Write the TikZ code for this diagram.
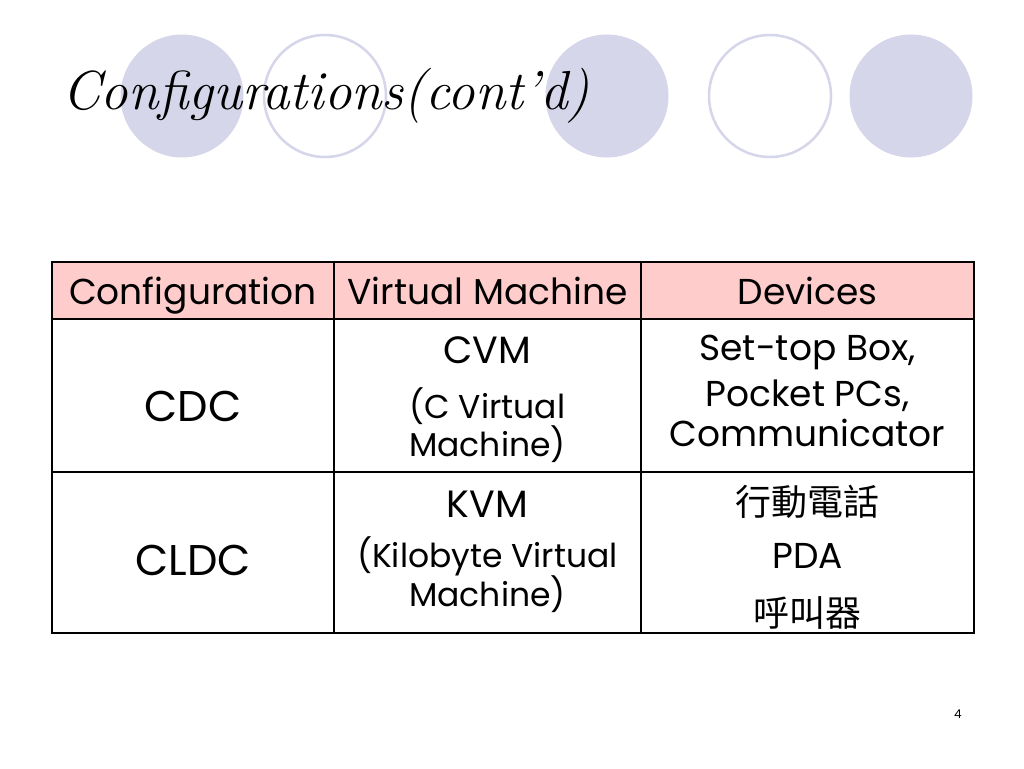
\documentclass[tikz,border=0pt]{standalone}
\usepackage{fontspec}
\newfontfamily\bodyfont{Poppins}
\newfontfamily\cjkfont{Noto Sans CJK TC}
\usetikzlibrary{
  positioning,
  calc}
\definecolor{dotcolor}{RGB}{214,214,235}
\definecolor{headcolor}{RGB}{255,204,204}
\tikzset{
  %% dot : a filled circle behind the title
  dot/.style={
    circle,
    fill=dotcolor,
    minimum size=123pt,
    inner sep=0pt
  },
  %% ring : an open circle behind the title
  ring/.style={
    circle,
    draw=dotcolor,
    line width=2.5pt,
    minimum size=122pt,
    inner sep=0pt
  },
  %% title : the slide title
  title/.style={
    font=\itshape\fontsize{55}{64}\selectfont,
    anchor=base west,
    inner sep=0pt
  },
  %% head : text in the header row
  head/.style={
    font=\bodyfont\fontsize{36}{44}\selectfont,
    anchor=base,
    inner sep=0pt
  },
  %% config : configuration name
  config/.style={
    font=\bodyfont\fontsize{43}{50}\selectfont,
    anchor=base,
    inner sep=0pt
  },
  %% vmname : virtual machine name
  vmname/.style={
    font=\bodyfont\fontsize{38}{46}\selectfont,
    anchor=base,
    inner sep=0pt
  },
  %% vmnote : long name of the virtual machine
  vmnote/.style={
    font=\bodyfont\fontsize{33}{40}\selectfont,
    anchor=base,
    inner sep=0pt
  },
  %% device : a line in the devices column
  device/.style={
    font=\bodyfont\fontsize{36}{44}\selectfont,
    anchor=base,
    inner sep=0pt
  },
  %% cjk : chinese device names
  cjk/.style={
    font=\cjkfont\fontsize{36}{44}\selectfont,
    inner sep=0pt
  },
  %% frame : outer border of the table
  frame/.style={black, line width=2.8pt},
  %% rule : inner lines of the table
  rule/.style={black, line width=1.3pt}
}

\begin{document}
\begin{tikzpicture}
  [x=1pt,
  y=-1pt]

  \useasboundingbox [fill=white] (0, 0) rectangle (1024, 768);

  %% Circles behind the title
  \node (dot1) [dot] at (182, 96) {};
  \node (ring1) [ring] at (325, 96) {};
  \node (dot2) [dot] at (607, 96) {};
  \node (ring2) [ring] at (770, 96) {};
  \node (dot3) [dot] at (911, 96) {};

  %% Title
  \node (title) [title] at (62, 109) {Configurations(cont’d)};

  %% Table
  \coordinate (tl) at (52, 262);
  \coordinate (br) at (974, 633);
  \fill [headcolor] (tl) rectangle (974, 319);
  \draw [rule] (52, 319) -- (974, 319);
  \draw [rule] (52, 472) -- (974, 472);
  \draw [rule] (334, 262) -- (334, 633);
  \draw [rule] (641, 262) -- (641, 633);
  \draw [frame] (tl) rectangle (br);

  %% Header row
  \node (cfghead) [head] at (193, 304) {Configuration};
  \node (vmhead) [head] at (487.5, 304) {Virtual Machine};
  \node (devhead) [head] at (807.5, 304) {Devices};

  %% CDC row
  \node (cdc) [config] at (193, 421) {CDC};
  \node (cvm) [vmname] at (487.5, 363) {CVM};
  \node (cvmnote1) [vmnote] at (487.5, 418) {(C Virtual};
  \node (cvmnote2) [vmnote] at (487.5, 456) {Machine)};
  \node (cdcdev1) [device] at (807.5, 360) {Set-top Box,};
  \node (cdcdev2) [device] at (807.5, 406) {Pocket PCs,};
  \node (cdcdev3) [device] at (807.5, 446) {Communicator};

  %% CLDC row
  \node (cldc) [config] at (193, 575) {CLDC};
  \node (kvm) [vmname] at (487.5, 517) {KVM};
  \node (kvmnote1) [vmnote] at (487.5, 567) {(Kilobyte Virtual};
  \node (kvmnote2) [vmnote] at (487.5, 606) {Machine)};
  \node (cldcdev1) [cjk] at (807.5, 502) {行動電話};
  \node (cldcdev2) [device] at (807.5, 568) {PDA};
  \node (cldcdev3) [cjk] at (807.5, 613) {呼叫器};

  %% Page number
  \node (pageno) [font=\bodyfont\fontsize{12}{14}\selectfont, anchor=base, inner sep=0pt]
    at (958, 718) {4};

\end{tikzpicture}
\end{document}
